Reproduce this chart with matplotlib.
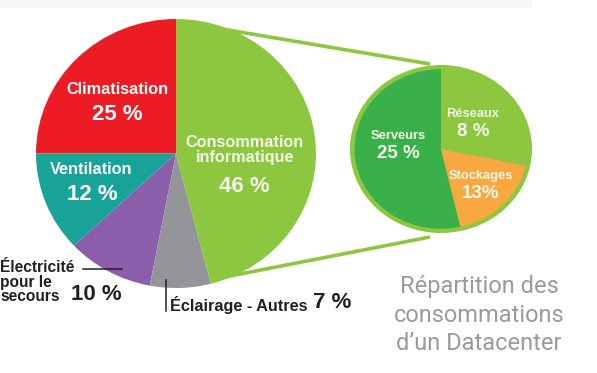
import matplotlib.pyplot as plt
from matplotlib.patches import Ellipse, Rectangle

W, H = 597, 373

# big pie : share of each consumer (%)
MAIN_LABELS = ["Climatisation", "Ventilation", "Électricité\npour le\nsecours",
               "Éclairage - Autres", "Consommation\ninformatique"]
MAIN_VALUES = [25, 12, 10, 7, 46]
MAIN_COLORS = ["#ED1C24", "#17A398", "#8A5EAB", "#939598", "#8DC63F"]

# small pie : detail of the IT consumption (drawn shares, labels as printed)
SUB_LABELS = ["Serveurs", "Stockages", "Réseaux"]
SUB_TEXT = ["25 %", "13%", "8 %"]
SUB_SHARES = [53.6, 18.1, 28.3]
SUB_COLORS = ["#39B04A", "#F9A740", "#8DC63F"]

TITLE = "Répartition des\nconsommations\nd\u2019un Datacenter"

fig = plt.figure(figsize=(W / 100, H / 100), dpi=100)


def px_axes(x0, y0, x1, y1):
    '''axes placed with pixel coords (origin top left)'''
    return fig.add_axes([x0 / W, 1 - y1 / H, (x1 - x0) / W, (y1 - y0) / H])


# background : faint band and the two green connecting lines
bg = px_axes(0, 0, W, H)
bg.set_xlim(0, W)
bg.set_ylim(H, 0)
bg.axis("off")
bg.add_patch(Rectangle((0, 0), 532, 8, color="#f6f6f6", lw=0))
bg.plot([210, 430], [27, 64], color="#8DC63F", lw=2.6, solid_capstyle="butt")
bg.plot([230, 430], [276, 237], color="#8DC63F", lw=2.6, solid_capstyle="butt")

# big pie
ax1 = px_axes(36, 19, 316, 288)
ax1.pie(MAIN_VALUES, colors=MAIN_COLORS, startangle=90, counterclock=True,
        radius=1, wedgeprops=dict(lw=0))
ax1.set_aspect("auto")
ax1.set_xlim(-1, 1)
ax1.set_ylim(-1, 1)
ax1.axis("off")

# small pie
ax2 = px_axes(350, 65, 532, 233)
ax2.add_patch(Ellipse((0, 0), 2, 2, color="#8DC63F", lw=0))
ax2.pie(SUB_SHARES, colors=SUB_COLORS, startangle=90, counterclock=True,
        radius=0.95, wedgeprops=dict(lw=0))
ax2.set_aspect("auto")
ax2.set_xlim(-1, 1)
ax2.set_ylim(-1, 1)
ax2.axis("off")

# texts on top
ax = px_axes(0, 0, W, H)
ax.set_xlim(0, W)
ax.set_ylim(H, 0)
ax.axis("off")
ax.patch.set_alpha(0)

FONT = "Liberation Sans"
white = "white"
pale = "#f3f8e8"
dark = "#231f20"
LAB = 11.7

ax.text(117, 90, MAIN_LABELS[0], color=white, fontsize=LAB, fontweight="bold",
        family=FONT, ha="center", va="center")
ax.text(117, 115, "%d %%" % MAIN_VALUES[0], color=white, fontsize=16,
        fontweight="bold", family=FONT, ha="center", va="center")

ax.text(91, 169, MAIN_LABELS[1], color=white, fontsize=LAB, fontweight="bold",
        family=FONT, ha="center", va="center")
ax.text(92, 195, "%d %%" % MAIN_VALUES[1], color=white, fontsize=16,
        fontweight="bold", family=FONT, ha="center", va="center")

ax.text(245, 150, MAIN_LABELS[4], color=pale, fontsize=LAB, fontweight="bold",
        family=FONT, ha="center", va="center", linespacing=1.05)
ax.text(244, 186, "%d %%" % MAIN_VALUES[4], color=pale, fontsize=16,
        fontweight="bold", family=FONT, ha="center", va="center")

# electricité + leader
ax.text(0, 282, MAIN_LABELS[2], color=dark, fontsize=11.2, fontweight="bold",
        family=FONT, ha="left", va="center", linespacing=0.98)
ax.text(71, 295, "%d %%" % MAIN_VALUES[2], color=dark, fontsize=16,
        fontweight="bold", family=FONT, ha="left", va="center")
ax.plot([83, 122], [269, 269], color=dark, lw=1.1)

# eclairage + leader
ax.plot([166, 166], [280, 311], color=dark, lw=1.1)
ax.text(170, 305, MAIN_LABELS[3], color=dark, fontsize=LAB, fontweight="bold",
        family=FONT, ha="left", va="center")
ax.text(313, 302, "%d %%" % MAIN_VALUES[3], color=dark, fontsize=16,
        fontweight="bold", family=FONT, ha="left", va="center")

# small pie labels
sub_pos = [(398, 136, 153), (481, 176, 193), (473, 114, 132)]
for (x, y1, y2), lab, txt in zip(sub_pos, SUB_LABELS, SUB_TEXT):
    ax.text(x, y1, lab, color=pale, fontsize=9.3, fontweight="bold",
            family=FONT, ha="center", va="center")
    ax.text(x, y2, txt, color=pale, fontsize=13.5, fontweight="bold",
            family=FONT, ha="center", va="center")

ax.text(479, 315, TITLE, color="#9b9b9b", fontsize=17, family="Roboto",
        fontweight="normal", ha="center", va="center", linespacing=1.3)

fig.savefig("out.png", dpi=100)
